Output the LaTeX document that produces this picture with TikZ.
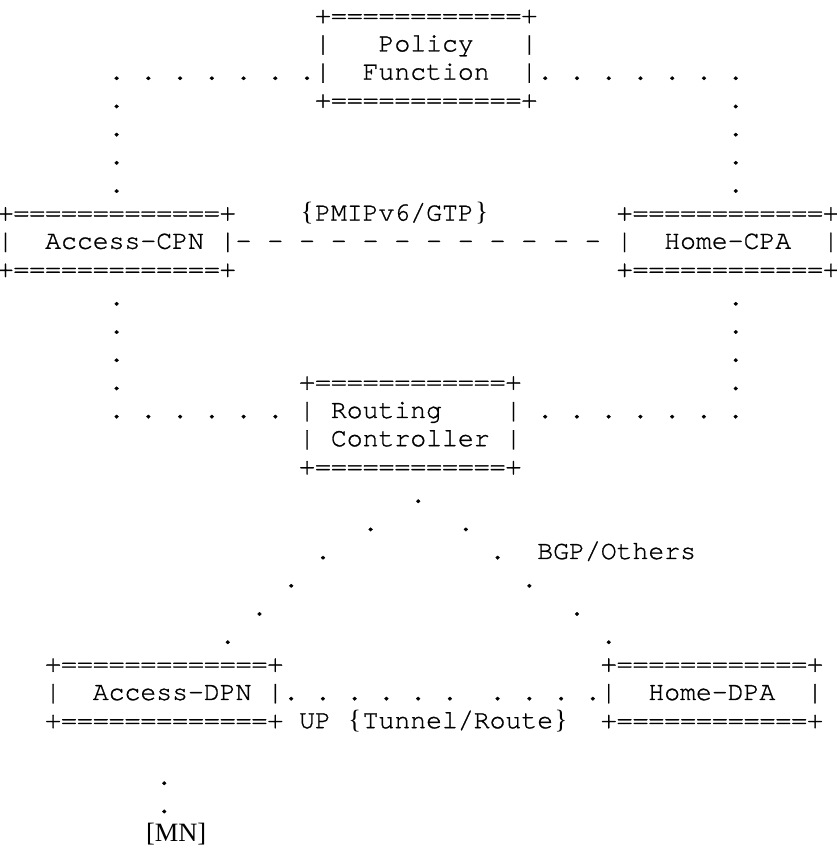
\documentclass[tikz,border=0pt]{standalone}
\usepackage{fontspec}
\setmonofont[FakeBold=1]{TeX Gyre Cursor}
\newfontfamily\serifbr{Liberation Serif}
\newlength\cw
\setlength\cw{15.875pt}
\newcommand\ascfont{\ttfamily\fontsize{26.454pt}{28.2pt}\selectfont\frenchspacing\spaceskip=15.875pt\relax\xspaceskip=15.875pt\relax}
\newcommand\lbr{\makebox[\cw][c]{\serifbr\{}}
\newcommand\rbr{\makebox[\cw][c]{\serifbr\}}}
\tikzset{
  asc/.style={inner sep=0pt, outer sep=0pt, anchor=base west, font=\ascfont, text=black},
}
% #1 name, #2 column, #3 row, #4 text
\newcommand\txt[4]{\node[asc] (#1) at ({(#2)*15.875pt-2.4375pt},{825.8pt-(#3)*28.2pt}) {#4};}
\begin{document}
\begin{tikzpicture}
\useasboundingbox (0,0) rectangle (837pt,849pt);
\fill[white] (0,0) rectangle (837pt,849pt);
% Policy Function
\txt{pf0}{20}{0}{+============+}
\txt{pf1}{20}{1}{|~~~Policy~~~|}
\txt{pf2}{7}{2}{.~.~.~.~.~.~.|~~Function~~|.~.~.~.~.~.~.}
\txt{pf3}{20}{3}{+============+}
\txt{dl3}{7}{3}{.}
\txt{dr3}{46}{3}{.}
\txt{dl4}{7}{4}{.}
\txt{dr4}{46}{4}{.}
\txt{dl5}{7}{5}{.}
\txt{dr5}{46}{5}{.}
\txt{dl6}{7}{6}{.}
\txt{dr6}{46}{6}{.}
% control plane row
\txt{cpn0}{0}{7}{+=============+}
\txt{pmip}{19}{7}{\lbr PMIPv6/GTP\rbr}
\txt{cpa0}{39}{7}{+============+}
\txt{cp1}{0}{8}{|~~Access-CPN~|-~-~-~-~-~-~-~-~-~-~-~-~|~~Home-CPA~~|}
\txt{cpn2}{0}{9}{+=============+}
\txt{cpa2}{39}{9}{+============+}
\txt{dl10}{7}{10}{.}
\txt{dr10}{46}{10}{.}
\txt{dl11}{7}{11}{.}
\txt{dr11}{46}{11}{.}
\txt{dl12}{7}{12}{.}
\txt{dr12}{46}{12}{.}
\txt{dl13}{7}{13}{.}
\txt{dr13}{46}{13}{.}
% Routing Controller
\txt{rc0}{19}{13}{+============+}
\txt{rc1}{7}{14}{.~.~.~.~.~.~|~Routing~~~~|~.~.~.~.~.~.~.}
\txt{rc2}{19}{15}{|~Controller~|}
\txt{rc3}{19}{16}{+============+}
% BGP fan-out
\txt{b17}{26}{17}{.}
\txt{bl18}{23}{18}{.}
\txt{br18}{29}{18}{.}
\txt{bl19}{20}{19}{.}
\txt{br19}{31}{19}{.}
\txt{bgp}{34}{19}{BGP/Others}
\txt{bl20}{18}{20}{.}
\txt{br20}{33}{20}{.}
\txt{bl21}{16}{21}{.}
\txt{br21}{36}{21}{.}
\txt{bl22}{14}{22}{.}
\txt{br22}{38}{22}{.}
% user plane row
\txt{dpn0}{3}{23}{+=============+}
\txt{dpa0}{38}{23}{+============+}
\txt{up1}{3}{24}{|~~Access-DPN~|.~.~.~.~.~.~~.~.~.~.|~~Home-DPA~~|}
\txt{dpn2}{3}{25}{+=============+}
\txt{uplbl}{19}{25}{UP}
\txt{tun}{22}{25}{\lbr Tunnel/Route\rbr}
\txt{dpa2}{38}{25}{+============+}
\txt{m27}{10}{27}{.}
\txt{m28}{10}{28}{.}
\node[asc, font=\serifbr\fontsize{26.454pt}{28.2pt}\selectfont] (mn) at (146pt,{825.8pt-29*28.2pt}) {[MN]};
\end{tikzpicture}
\end{document}
